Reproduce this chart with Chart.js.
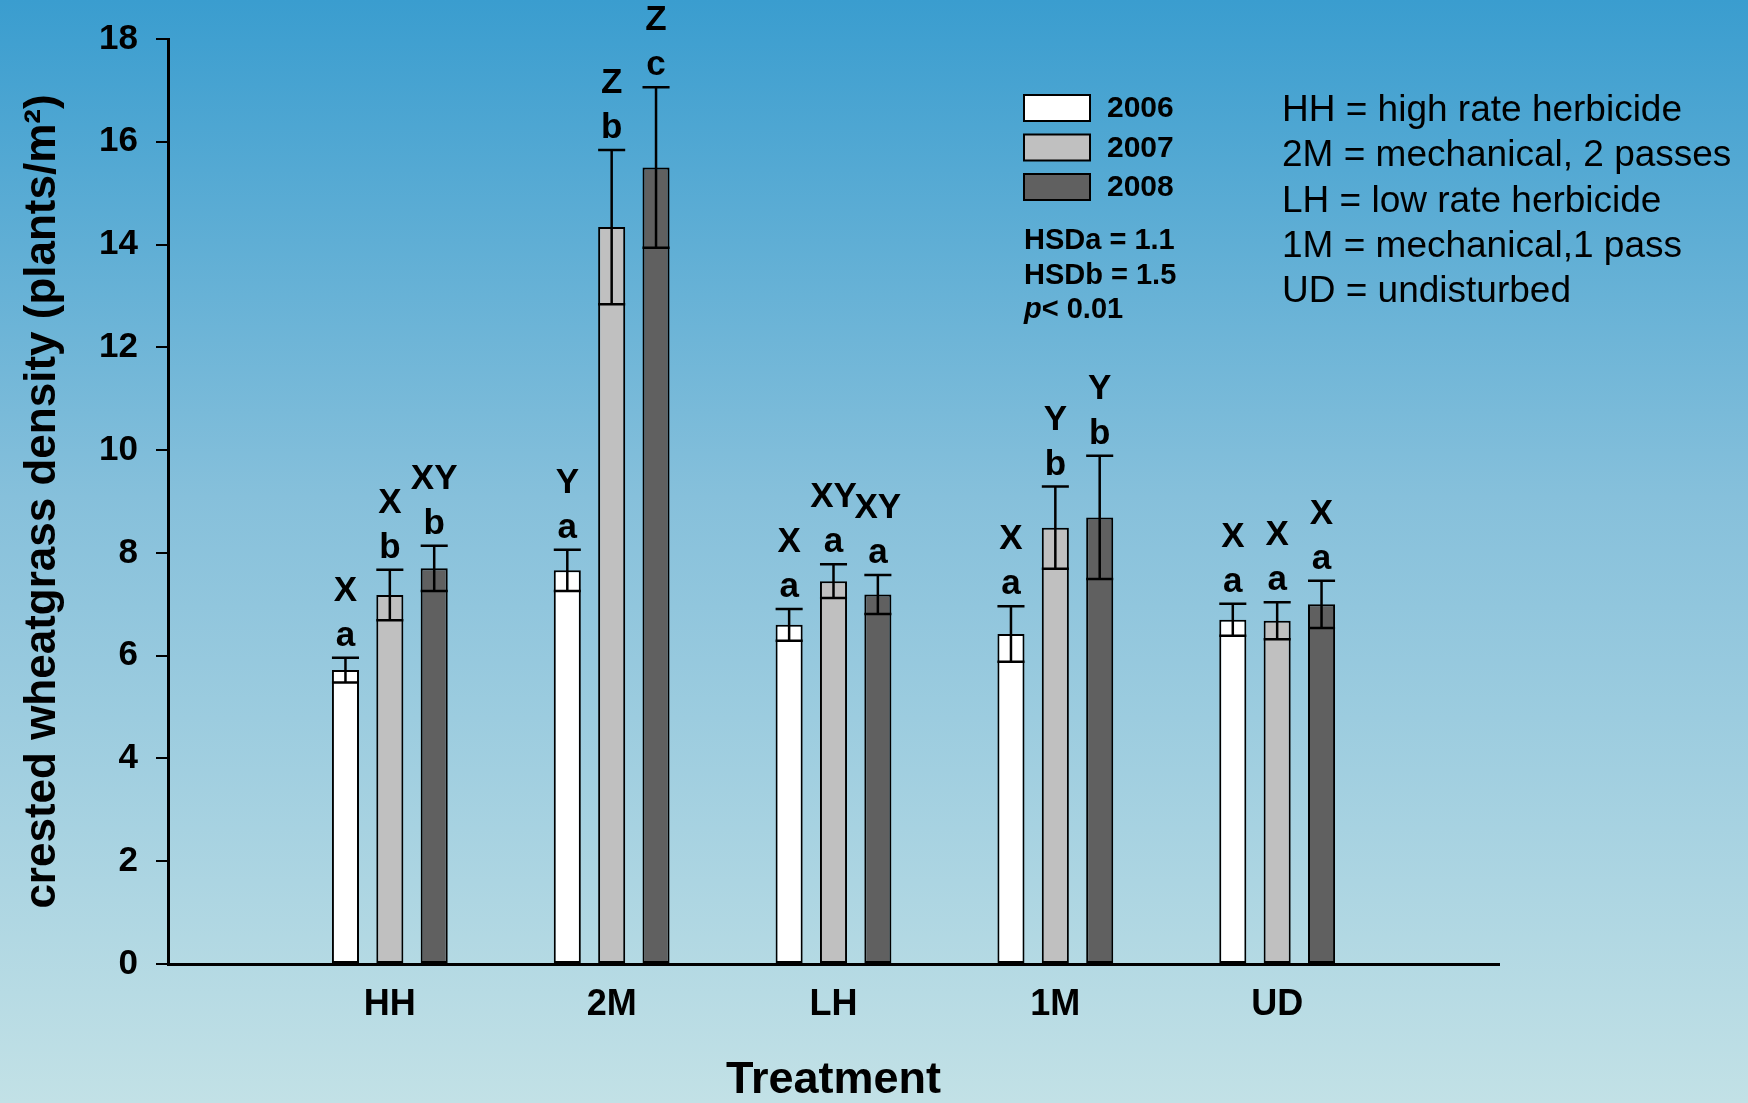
<!DOCTYPE html>
<html>
<head>
    <title>Crested wheatgrass density</title>
    <script src="https://cdn.jsdelivr.net/npm/chart.js"></script>
    <style>
        body {
            margin: 0;
            background: linear-gradient(to bottom, #3a9dcf 0%, #86c0db 45%, #c2e1e6 100%);
        }
        canvas { display: block; }
    </style>
</head>
<body>
    <canvas id="barChart" width="1748" height="1103"></canvas>
    <script>
        // data
        const treatments = ['HH', '2M', 'LH', '1M', 'UD'];
        const years = ['2006', '2007', '2008'];
        const density2006 = [5.72, 7.66, 6.60, 6.42, 6.70];
        const density2007 = [7.18, 14.34, 7.45, 8.49, 6.68];
        const density2008 = [7.70, 15.50, 7.19, 8.69, 7.00];
        const error2006 = [0.24, 0.40, 0.31, 0.54, 0.31];
        const error2007 = [0.49, 1.50, 0.33, 0.80, 0.36];
        const error2008 = [0.44, 1.56, 0.38, 1.20, 0.46];
        const upper2006 = ['X', 'Y', 'X', 'X', 'X'];
        const upper2007 = ['X', 'Z', 'XY', 'Y', 'X'];
        const upper2008 = ['XY', 'Z', 'XY', 'Y', 'X'];
        const lower2006 = ['a', 'a', 'a', 'a', 'a'];
        const lower2007 = ['b', 'b', 'a', 'b', 'a'];
        const lower2008 = ['b', 'c', 'a', 'b', 'a'];
        const yTicks = { min: 0, max: 18, step: 2 };
        const stats = ['HSDa = 1.1', 'HSDb = 1.5'];
        const pValue = '< 0.01';
        const abbreviations = [
            'HH = high rate herbicide',
            '2M = mechanical, 2 passes',
            'LH = low rate herbicide',
            '1M = mechanical,1 pass',
            'UD = undisturbed'
        ];

        const FONT = '"Liberation Sans", Arial, sans-serif';
        const fills = ['#ffffff', '#c0c0c0', '#606060'];

        // empty slot on both ends of the category axis
        const pad = arr => [null, ...arr, null];
        const labels = ['', ...treatments, ''];

        const series = [
            [density2006, error2006, upper2006, lower2006],
            [density2007, error2007, upper2007, lower2007],
            [density2008, error2008, upper2008, lower2008]
        ];

        const datasets = series.map((s, i) => ({
            label: years[i],
            data: pad(s[0]),
            errors: pad(s[1]),
            upper: pad(s[2]),
            lower: pad(s[3]),
            backgroundColor: fills[i],
            borderColor: '#000',
            borderWidth: 2,
            borderSkipped: false,
            categoryPercentage: 0.6,
            barPercentage: 0.61
        }));

        const errorBars = {
            id: 'errorBars',
            afterDatasetsDraw(chart) {
                const ctx = chart.ctx;
                const y = chart.scales.y;
                chart.data.datasets.forEach((ds, di) => {
                    chart.getDatasetMeta(di).data.forEach((bar, i) => {
                        const v = ds.data[i];
                        if (v === null) return;
                        const e = ds.errors[i];
                        const half = bar.width / 2;
                        const top = y.getPixelForValue(v + e);
                        const bot = y.getPixelForValue(v - e);
                        ctx.save();
                        ctx.strokeStyle = '#000';
                        ctx.lineWidth = 2.5;
                        ctx.beginPath();
                        ctx.moveTo(bar.x, bot);
                        ctx.lineTo(bar.x, top);
                        ctx.moveTo(bar.x - half, top);
                        ctx.lineTo(bar.x + half, top);
                        ctx.moveTo(bar.x - half, bot);
                        ctx.lineTo(bar.x + half, bot);
                        ctx.stroke();
                        ctx.fillStyle = '#000';
                        ctx.font = 'bold 35px ' + FONT;
                        ctx.textAlign = 'center';
                        ctx.textBaseline = 'alphabetic';
                        ctx.fillText(ds.lower[i], bar.x, top - 12);
                        ctx.fillText(ds.upper[i], bar.x, top - 57);
                        ctx.restore();
                    });
                });
            }
        };

        const sideText = {
            id: 'sideText',
            afterDraw(chart) {
                const ctx = chart.ctx;
                ctx.save();
                ctx.textBaseline = 'middle';
                ctx.textAlign = 'left';
                // legend boxes
                chart.data.datasets.forEach((ds, i) => {
                    const top = 95 + i * 39.5;
                    ctx.fillStyle = ds.backgroundColor;
                    ctx.fillRect(1024, top, 66, 26);
                    ctx.strokeStyle = '#000';
                    ctx.lineWidth = 2;
                    ctx.strokeRect(1024, top, 66, 26);
                    ctx.fillStyle = '#000';
                    ctx.font = 'bold 30px ' + FONT;
                    ctx.fillText(ds.label, 1107, top + 14);
                });
                // HSD values
                ctx.font = 'bold 29px ' + FONT;
                stats.forEach((t, i) => ctx.fillText(t, 1024, 241 + i * 34.5));
                ctx.font = 'italic bold 29px ' + FONT;
                ctx.fillText('p', 1024, 310);
                const pw = ctx.measureText('p').width;
                ctx.font = 'bold 29px ' + FONT;
                ctx.fillText(pValue, 1024 + pw, 310);
                // abbreviations
                ctx.font = '37px ' + FONT;
                abbreviations.forEach((t, i) => ctx.fillText(t, 1282, 111 + i * 45.2));
                ctx.restore();
            }
        };

        const ctx = document.getElementById('barChart').getContext('2d');
        new Chart(ctx, {
            type: 'bar',
            data: { labels: labels, datasets: datasets },
            options: {
                responsive: false,
                animation: false,
                layout: { padding: { left: 0, top: 37, right: 249, bottom: 0 } },
                plugins: {
                    legend: { display: false },
                    tooltip: { enabled: false }
                },
                scales: {
                    x: {
                        offset: false,
                        grid: { display: false },
                        border: { display: true, color: '#000', width: 3 },
                        ticks: {
                            color: '#000',
                            padding: 11,
                            autoSkip: false,
                            maxRotation: 0,
                            font: { family: FONT, size: 36, weight: 'bold' }
                        },
                        title: {
                            display: true,
                            text: 'Treatment',
                            color: '#000',
                            padding: 0,
                            font: { family: FONT, size: 45, weight: 'bold', lineHeight: 1 }
                        },
                        afterFit(scale) { scale.height = 139; }
                    },
                    y: {
                        min: yTicks.min,
                        max: yTicks.max,
                        grid: {
                            display: true,
                            drawOnChartArea: false,
                            drawTicks: true,
                            tickLength: 12,
                            color: '#000',
                            lineWidth: 2
                        },
                        border: { display: true, color: '#000', width: 3 },
                        ticks: {
                            stepSize: yTicks.step,
                            color: '#000',
                            padding: 18,
                            font: { family: FONT, size: 35, weight: 'bold' }
                        },
                        title: {
                            display: true,
                            text: 'crested wheatgrass density (plants/m²)',
                            color: '#000',
                            padding: { top: 16, bottom: 0 },
                            font: { family: FONT, size: 44, weight: 'bold' }
                        },
                        afterFit(scale) { scale.width = 168; }
                    }
                }
            },
            plugins: [errorBars, sideText]
        });
    </script>
</body>
</html>
